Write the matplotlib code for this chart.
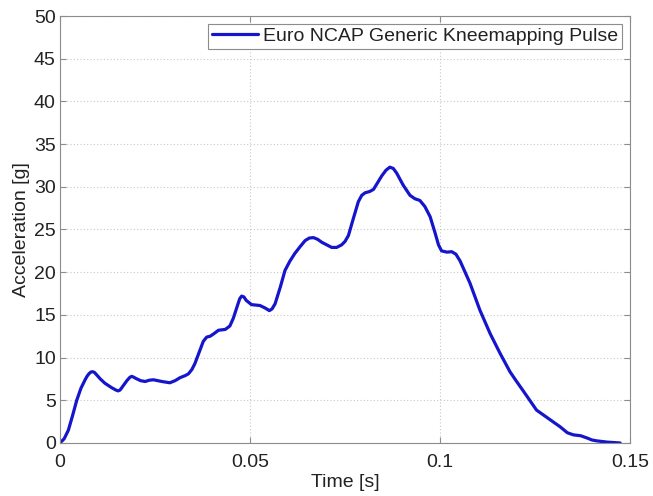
import matplotlib
matplotlib.use("Agg")
import matplotlib.pyplot as plt

time_s = [0.0000, 0.0011, 0.0022, 0.0033, 0.0044, 0.0055, 0.0066, 0.0071, 0.0076, 0.0081,
          0.0086, 0.0091, 0.0096, 0.0106, 0.0118, 0.0135, 0.0147, 0.0153, 0.0158, 0.0163,
          0.0176, 0.0184, 0.0189, 0.0194, 0.0200, 0.0212, 0.0224, 0.0235, 0.0246, 0.0268,
          0.0289, 0.0303, 0.0316, 0.0330, 0.0338, 0.0347, 0.0355, 0.0366, 0.0377, 0.0386,
          0.0395, 0.0405, 0.0417, 0.0435, 0.0447, 0.0456, 0.0467, 0.0473, 0.0478, 0.0484,
          0.0490, 0.0504, 0.0526, 0.0540, 0.0551, 0.0558, 0.0566, 0.0580, 0.0592, 0.0605,
          0.0618, 0.0632, 0.0645, 0.0656, 0.0667, 0.0678, 0.0689, 0.0715, 0.0728, 0.0741,
          0.0750, 0.0759, 0.0772, 0.0785, 0.0794, 0.0803, 0.0815, 0.0825, 0.0836, 0.0847,
          0.0858, 0.0868, 0.0877, 0.0886, 0.0903, 0.0921, 0.0934, 0.0947, 0.0960, 0.0974,
          0.0987, 0.0996, 0.1004, 0.1018, 0.1031, 0.1042, 0.1053, 0.1079, 0.1105, 0.1132,
          0.1158, 0.1184, 0.1200, 0.1219, 0.1254, 0.1281, 0.1300, 0.1316, 0.1335, 0.1351,
          0.1370, 0.1386, 0.1400, 0.1412, 0.1440, 0.1474]
accel_g = [0.0, 0.5, 1.5, 3.2, 5.0, 6.4, 7.4, 7.8, 8.1, 8.3,
           8.35, 8.25, 8.0, 7.5, 7.0, 6.5, 6.2, 6.1, 6.2, 6.5,
           7.3, 7.7, 7.8, 7.7, 7.55, 7.3, 7.2, 7.35, 7.4, 7.2,
           7.05, 7.3, 7.65, 7.9, 8.1, 8.6, 9.3, 10.6, 11.9, 12.4,
           12.5, 12.8, 13.2, 13.3, 13.7, 14.6, 16.1, 16.9, 17.2, 17.1,
           16.7, 16.2, 16.1, 15.8, 15.5, 15.7, 16.3, 18.3, 20.2, 21.3,
           22.2, 23.0, 23.7, 24.0, 24.05, 23.85, 23.5, 22.9, 22.9, 23.2,
           23.6, 24.3, 26.3, 28.25, 29.0, 29.3, 29.45, 29.7, 30.5, 31.3,
           31.95, 32.3, 32.15, 31.6, 30.2, 29.0, 28.6, 28.4, 27.7, 26.5,
           24.6, 23.2, 22.5, 22.35, 22.4, 22.1, 21.3, 18.7, 15.55, 12.8,
           10.5, 8.35, 7.3, 6.1, 3.85, 3.0, 2.4, 1.9, 1.2, 0.95,
           0.85, 0.6, 0.35, 0.25, 0.1, 0.0]

x_ticks = [0, 0.05, 0.1, 0.15]
x_tick_labels = ["0", "0.05", "0.1", "0.15"]
y_ticks = [0, 5, 10, 15, 20, 25, 30, 35, 40, 45, 50]
series_label = "Euro NCAP Generic Kneemapping Pulse"

plt.rcParams['font.family'] = ['Liberation Sans', 'DejaVu Sans']

fig = plt.figure(figsize=(6.53, 4.96), dpi=100)
ax = fig.add_axes([0.0919, 0.1069, 0.8729, 0.8608])

ax.plot(time_s, accel_g, color='#1515cc', linewidth=2.3, label=series_label,
        solid_joinstyle='round', solid_capstyle='round')

ax.set_xlim(0, 0.15)
ax.set_ylim(0, 50)
ax.set_xticks(x_ticks)
ax.set_xticklabels(x_tick_labels)
ax.set_yticks(y_ticks)

ax.grid(True, linestyle=(0, (1, 2)), color='#c8c8c8', linewidth=0.8)
for s in ax.spines.values():
    s.set_color('#8c8c8c')
    s.set_linewidth(0.8)
ax.tick_params(direction='in', length=4, color='#8c8c8c', labelsize=14,
               labelcolor='#222222', top=True, right=True)
ax.tick_params(axis='x', pad=8)
ax.tick_params(axis='y', pad=3)

ax.set_xlabel("Time [s]", fontsize=14, color='#222222', labelpad=2)
ax.set_ylabel("Acceleration [g]", fontsize=14, color='#222222', labelpad=3)

leg = ax.legend(loc='upper right', fontsize=14, fancybox=False, framealpha=1,
                edgecolor='#8c8c8c', borderpad=0.2, handlelength=2.4,
                handletextpad=0.25, borderaxespad=0.4)
leg.get_frame().set_linewidth(0.8)
for t in leg.get_texts():
    t.set_color('#222222')

fig.savefig("out.png", dpi=100)
